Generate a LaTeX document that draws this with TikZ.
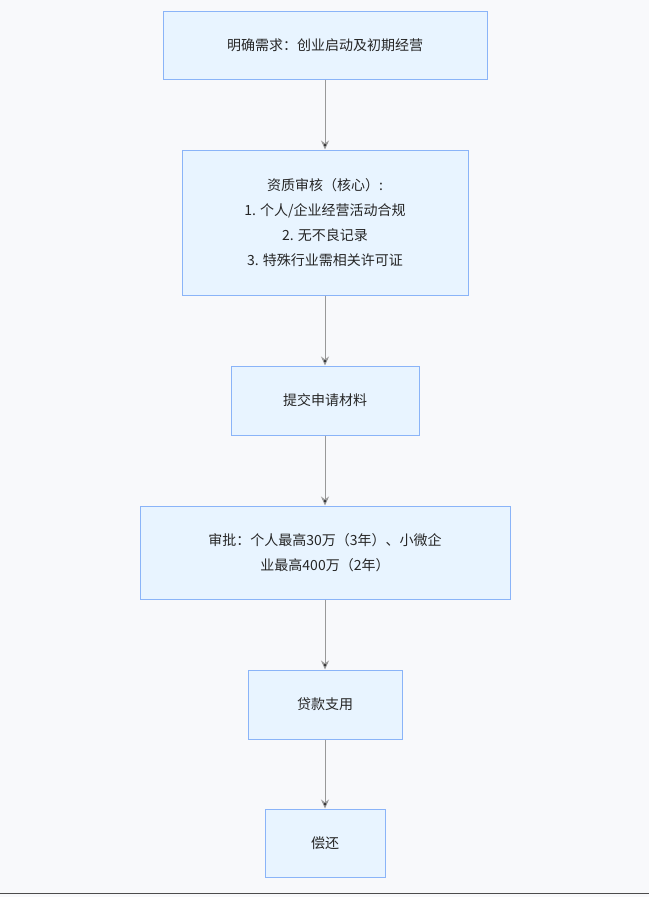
\documentclass[tikz,border=0pt]{standalone}
\usepackage{fontspec}
\setmainfont{Noto Sans CJK SC}
\usetikzlibrary{arrows.meta}
\definecolor{boxfill}{HTML}{E8F4FF}
\definecolor{boxline}{HTML}{8AB4F8}
\definecolor{bgcol}{HTML}{F8F9FB}
\definecolor{arrowcol}{HTML}{999999}
\begin{document}
\begin{tikzpicture}[x=1pt,y=-1pt,>={Stealth[length=9pt,width=8pt]},
  step node/.style={rectangle,draw=boxline,fill=boxfill,line width=1pt,align=center,font=\fontsize{14}{25}\selectfont,text=black!85,inner sep=0pt},
  flow/.style={->,draw=arrowcol,line width=1pt}]
  \fill[bgcol] (0,0) rectangle (649,897);
  \useasboundingbox (0,0) rectangle (649,897);
  \node[step node,minimum width=324pt,minimum height=68pt] (need) at (325,45) {明确需求：创业启动及初期经营};
  \node[step node,minimum width=286pt,minimum height=145pt] (check) at (325,222.5) {资质审核（核心）:\\1. 个人/企业经营活动合规\\2. 无不良记录\\3. 特殊行业需相关许可证};
  \node[step node,minimum width=188pt,minimum height=69pt] (apply) at (325,400.5) {提交申请材料};
  \node[step node,minimum width=370pt,minimum height=93pt] (approve) at (325,552.5) {审批：个人最高30万（3年）、小微企\\业最高400万（2年）};
  \node[step node,minimum width=154pt,minimum height=69pt] (use) at (325,704.5) {贷款支用};
  \node[step node,minimum width=120pt,minimum height=68pt] (repay) at (325,843) {偿还};
  \path[flow] (need) edge (check) (check) edge (apply) (apply) edge (approve)
    (approve) edge (use) (use) edge (repay);
  \draw[black!70,line width=1pt] (0,893) -- (649,893);
\end{tikzpicture}
\end{document}
